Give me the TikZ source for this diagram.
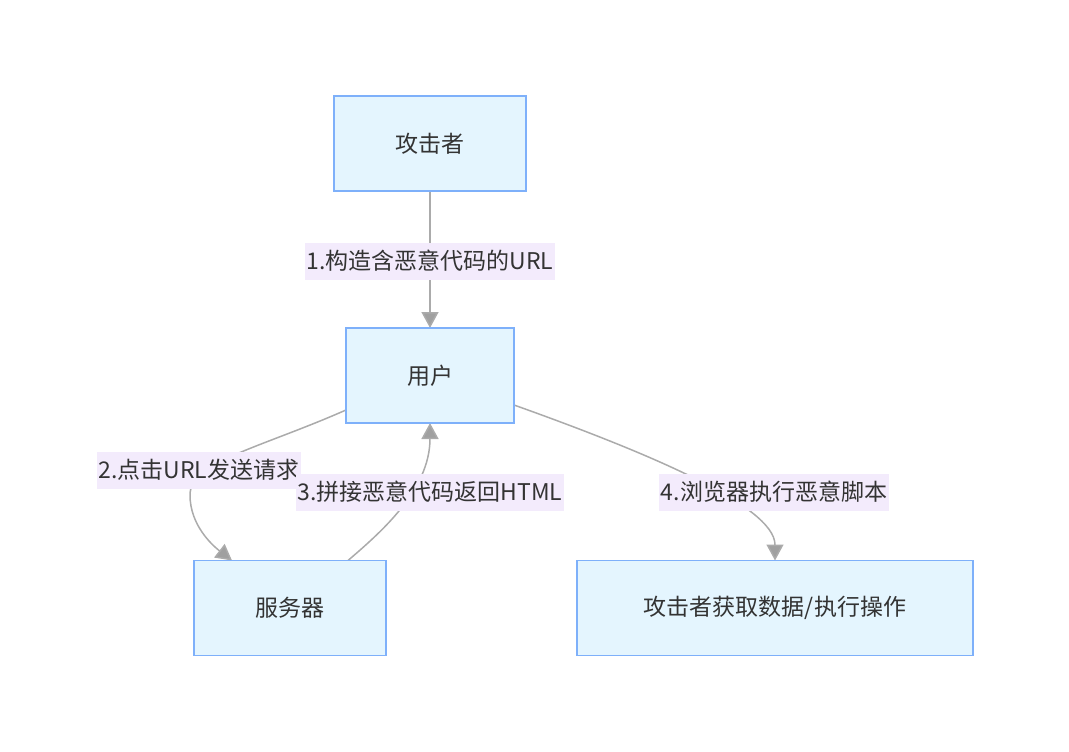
\documentclass[tikz,border=0pt]{standalone}
\usepackage{fontspec}
\setmainfont{Noto Sans CJK SC}
\usetikzlibrary{arrows.meta,backgrounds}
\definecolor{boxfill}{HTML}{E4F5FE}
\definecolor{boxline}{HTML}{7EB0FA}
\definecolor{lblfill}{HTML}{F3EBFC}
\definecolor{edgeline}{HTML}{ABABAB}
\definecolor{tipfill}{HTML}{A0A0A0}
\definecolor{txt}{HTML}{333333}
\begin{document}
\begin{tikzpicture}[x=1pt,y=-1pt,inner sep=0pt,outer sep=0pt,font=\fontsize{23}{27}\selectfont,text=txt,
stepbox/.style={draw=boxline,fill=boxfill,rectangle,line width=1.5pt,minimum height=95pt},
lbl/.style={fill=lblfill,inner xsep=2pt,minimum height=37pt},
edge/.style={draw=edgeline,line width=1.5pt,-{Triangle[width=17pt,length=16pt,fill=tipfill]}}]

\useasboundingbox (0,0) rectangle (1069,752);

%%% Blocks %%%%%
\node[stepbox,minimum width=192pt] (attacker) at (430,143.5) {攻击者};
\node[stepbox,minimum width=168pt] (user) at (430,375.5) {用户};
\node[stepbox,minimum width=192pt] (server) at (290,608) {服务器};
\node[stepbox,minimum width=396pt] (result) at (775,608) {攻击者获取数据/执行操作};

%%% Edge labels
\node[lbl] (l1) at (430,261) {1.构造含恶意代码的URL};
\node[lbl] (l2) at (199,470) {2.点击URL发送请求};
\node[lbl] (l3) at (430,492) {3.拼接恶意代码返回HTML};
\node[lbl] (l4) at (774,492) {4.浏览器执行恶意脚本};

%%% Connections (behind the labels)
\begin{pgfonlayer}{background}
\draw[edge] (attacker.south) -- (user.north);
\draw[edge] ([yshift=13pt]user.south west) .. controls (260,448) and (190,462) .. (190,495)
	.. controls (190,525) and (212,545) .. ([xshift=38pt]server.north west);
\draw[edge] ([xshift=-38pt]server.north east) .. controls (380,533) and (430,490) .. (user.south);
\draw[edge] ([yshift=18pt]user.south east) .. controls (640,450) and (775,505) .. (result.north);
\end{pgfonlayer}

\end{tikzpicture}
\end{document}
